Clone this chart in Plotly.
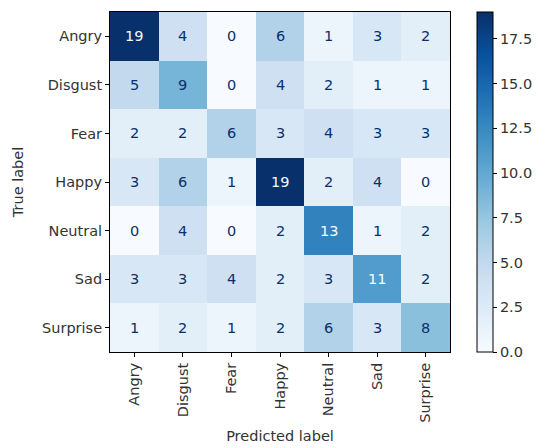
import plotly.graph_objects as go

labels = ["Angry", "Disgust", "Fear", "Happy", "Neutral", "Sad", "Surprise"]
matrix = [
    [19, 4, 0, 6, 1, 3, 2],
    [5, 9, 0, 4, 2, 1, 1],
    [2, 2, 6, 3, 4, 3, 3],
    [3, 6, 1, 19, 2, 4, 0],
    [0, 4, 0, 2, 13, 1, 2],
    [3, 3, 4, 2, 3, 11, 2],
    [1, 2, 1, 2, 6, 3, 8],
]

blues = ["#f7fbff", "#deebf7", "#c6dbef", "#9ecae1", "#6baed6",
         "#4292c6", "#2171b5", "#08519c", "#08306b"]
cscale = [[i / 8, c] for i, c in enumerate(blues)]

zmin, zmax = 0, max(max(r) for r in matrix)
thresh = (zmin + zmax) / 2
font = "DejaVu Sans"
fs = 14.5

fig = go.Figure(go.Heatmap(
    z=matrix, x=labels, y=labels, colorscale=cscale, zmin=zmin, zmax=zmax,
    xgap=0, ygap=0, hoverinfo="skip",
    colorbar=dict(
        x=1.0794, xanchor="left", xref="paper", y=0.5, yanchor="middle",
        len=1, lenmode="fraction", thickness=16, xpad=0, ypad=0,
        outlinewidth=1, outlinecolor="black",
        ticks="outside", ticklen=4, tickwidth=1, tickcolor="black",
        tick0=0, dtick=2.5, tickformat=".1f",
        tickfont=dict(family=font, size=fs, color="#333333"),
    ),
))

anns = []
for i, row in enumerate(matrix):
    for j, v in enumerate(row):
        anns.append(dict(
            x=labels[j], y=labels[i], xref="x", yref="y", text=str(v),
            showarrow=False,
            font=dict(family=font, size=fs,
                      color="#f7fbff" if v > thresh else "#08306b"),
        ))

fig.update_layout(
    width=540, height=448,
    margin=dict(l=102, r=98, t=4, b=104, autoexpand=False),
    paper_bgcolor="white", plot_bgcolor="white",
    annotations=anns,
    font=dict(family=font, size=fs, color="#333333"),
    xaxis=dict(
        title=dict(text="Predicted label", font=dict(family=font, size=fs), standoff=9),
        tickangle=-90, ticks="outside", ticklen=4, tickcolor="black",
        showline=True, linecolor="black", linewidth=1, mirror=True,
        showgrid=False, zeroline=False, automargin=False,
    ),
    yaxis=dict(
        title=dict(text="True label", font=dict(family=font, size=fs), standoff=14),
        autorange="reversed", ticks="outside", ticklen=4, tickcolor="black",
        showline=True, linecolor="black", linewidth=1, mirror=True,
        showgrid=False, zeroline=False, automargin=False,
    ),
)

fig.write_html("out.html")
